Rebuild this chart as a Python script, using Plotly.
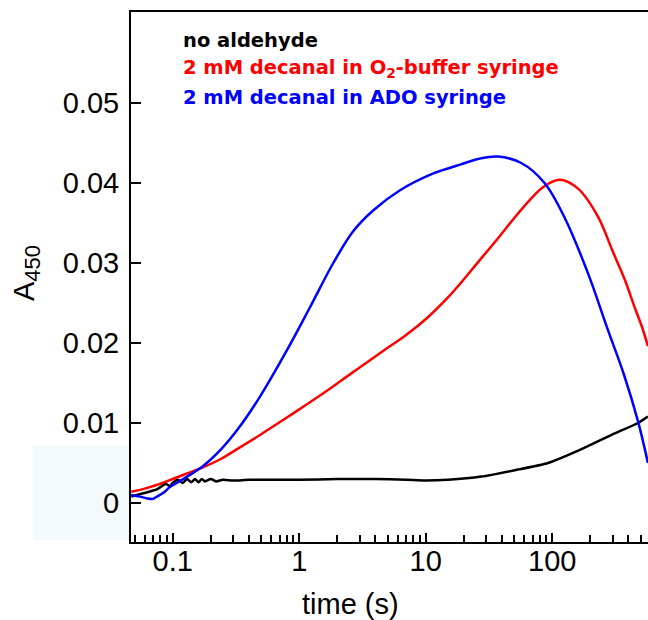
import plotly.graph_objects as go

# ---- data ----
black_t = [0.047, 0.055, 0.065, 0.075, 0.082, 0.088, 0.095, 0.10, 0.11, 0.12, 0.13, 0.14,
           0.15, 0.16, 0.17, 0.18, 0.20, 0.22, 0.25, 0.30, 0.40, 0.60, 1.0, 2.0, 4.0, 7.0,
           10, 15, 27.5, 50.6, 92.7, 169, 312, 477, 571]
black_v = [0.0008, 0.0011, 0.0014, 0.0017, 0.0021, 0.0024, 0.0021, 0.0025, 0.0029, 0.0025,
           0.0030, 0.0026, 0.0030, 0.0026, 0.0030, 0.0027, 0.0030, 0.0027, 0.0029, 0.0028,
           0.0029, 0.0029, 0.0029, 0.0030, 0.0030, 0.0029, 0.0028, 0.0029, 0.0033, 0.0041,
           0.0050, 0.0067, 0.0087, 0.0100, 0.0108]

red_t = [0.047, 0.06, 0.08, 0.10, 0.13, 0.17, 0.24, 0.32, 0.50, 0.75, 1.0, 1.45, 1.86, 2.8,
         4.6, 7.0, 10.2, 15, 18.7, 25, 37.3, 50, 68.6, 85, 114, 160, 230, 300, 375, 450,
         513, 571]
red_v = [0.0014, 0.0018, 0.0024, 0.0030, 0.0037, 0.0044, 0.0055, 0.0067, 0.0086, 0.0104,
         0.0117, 0.0134, 0.0146, 0.0166, 0.0190, 0.0210, 0.0231, 0.0257, 0.0274, 0.0298,
         0.0331, 0.0356, 0.0381, 0.0395, 0.0404, 0.0393, 0.0358, 0.0315, 0.0279, 0.0244,
         0.0220, 0.0196]

blue_t = [0.047, 0.055, 0.062, 0.069, 0.075, 0.085, 0.095, 0.11, 0.13, 0.17, 0.244, 0.33,
          0.49, 0.80, 1.22, 1.86, 2.68, 3.86, 6.27, 11.5, 18.7, 27.5, 37.3, 57, 87, 126,
          192, 276, 370, 477, 571]
blue_v = [0.0010, 0.0008, 0.0006, 0.0005, 0.0008, 0.0013, 0.0020, 0.0026, 0.0033, 0.0045,
          0.0068, 0.0093, 0.0133, 0.0191, 0.0245, 0.0300, 0.0340, 0.0366, 0.0391, 0.0412,
          0.0423, 0.0431, 0.0433, 0.0425, 0.0400, 0.0356, 0.0287, 0.0216, 0.0160, 0.0102,
          0.0050]

x_tickvals = [0.1, 1, 10, 100]
x_ticktext = ["0.1", "1", "10", "100"]
x_minor = [0.05, 0.06, 0.07, 0.08, 0.09, 0.2, 0.3, 0.4, 0.5, 0.6, 0.7, 0.8, 0.9,
           2, 3, 4, 5, 6, 7, 8, 9, 20, 30, 40, 50, 60, 70, 80, 90, 200, 300, 400, 500]
y_tickvals = [0, 0.01, 0.02, 0.03, 0.04, 0.05]
y_ticktext = ["0", "0.01", "0.02", "0.03", "0.04", "0.05"]

labels = ["no aldehyde",
          "2 mM decanal in O<sub>2</sub>-buffer syringe",
          "2 mM decanal in ADO syringe"]
colors = ["#000000", "#ff0000", "#0000ff"]

AX_FONT = "Liberation Sans, Arial, sans-serif"

fig = go.Figure()
fig.add_trace(go.Scatter(x=black_t, y=black_v, mode="lines",
                         line=dict(color=colors[0], width=2.5, shape="spline", smoothing=0.6),
                         showlegend=False))
fig.add_trace(go.Scatter(x=red_t, y=red_v, mode="lines",
                         line=dict(color=colors[1], width=2.5, shape="spline", smoothing=1.0),
                         showlegend=False))
fig.add_trace(go.Scatter(x=blue_t, y=blue_v, mode="lines",
                         line=dict(color=colors[2], width=2.5, shape="spline", smoothing=1.0),
                         showlegend=False))

fig.update_layout(
    width=648, height=620,
    margin=dict(l=131, r=0, t=12, b=78),
    paper_bgcolor="white", plot_bgcolor="white",
    font=dict(family=AX_FONT, size=29, color="black"),
    xaxis=dict(type="log", range=[-1.3296, 2.7573],
               tickvals=x_tickvals, ticktext=x_ticktext,
               ticks="inside", ticklen=9, tickwidth=2, tickcolor="black",
               showline=True, linewidth=2, linecolor="black", mirror=True,
               showgrid=False, zeroline=False,
               ticklabelstandoff=-8,
               tickfont=dict(family=AX_FONT, size=29)),
    yaxis=dict(range=[-0.004875, 0.061375],
               tickvals=y_tickvals, ticktext=y_ticktext,
               ticks="inside", ticklen=10, tickwidth=2, tickcolor="black",
               showline=True, linewidth=2, linecolor="black", mirror=False,
               showgrid=False, zeroline=False,
               ticklabelstandoff=4,
               tickfont=dict(family=AX_FONT, size=29)),
)
fig.update_xaxes(minor=dict(tickvals=x_minor, ticks="inside", ticklen=7,
                            tickwidth=1.5, tickcolor="black", showgrid=False))

# faint background patch at lower left (as in the reference)
fig.add_shape(type="rect", xref="paper", yref="paper",
              x0=-0.1896, x1=-0.004, y0=0.004, y1=0.183,
              fillcolor="#f4f9fb", line=dict(width=0), layer="below")

# axis titles
fig.add_annotation(text="time (s)", xref="paper", yref="paper",
                   x=0.4255, y=-0.117, xanchor="center", yanchor="middle",
                   showarrow=False, font=dict(family=AX_FONT, size=29))
fig.add_annotation(text="A<sub><span style='font-size:22px'>450</span></sub>",
                   xref="paper", yref="paper",
                   x=-0.203, y=0.5075, xanchor="center", yanchor="middle",
                   textangle=-90, showarrow=False, font=dict(family=AX_FONT, size=29))

# in-plot legend text
leg_y = [0.946, 0.893, 0.839]
for txt, col, yy in zip(labels, colors, leg_y):
    fig.add_annotation(text="<b>" + txt + "</b>", xref="paper", yref="paper",
                       x=0.0967, y=yy, xanchor="left", yanchor="middle",
                       showarrow=False,
                       font=dict(family="DejaVu Sans, sans-serif", size=19.5, color=col))

# remove the default 8px page margin so the 648x620 figure fills the window exactly
fig.write_html("out.html", config={"displayModeBar": False},
               post_script="document.body.style.margin='0';")
